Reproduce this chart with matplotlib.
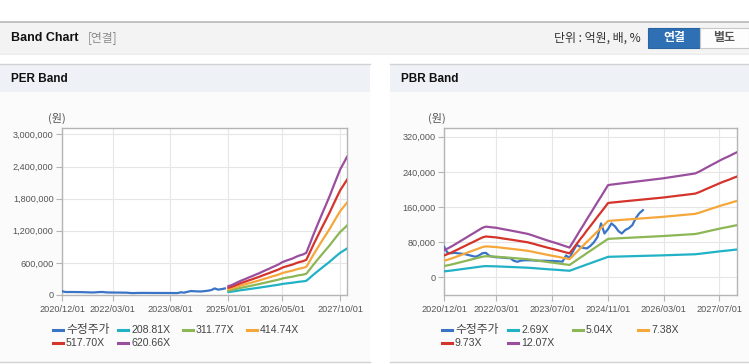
import numpy as np
import pandas as pd
import matplotlib
matplotlib.use("Agg")
import matplotlib.pyplot as plt
from matplotlib.patches import Rectangle
from matplotlib.lines import Line2D
from matplotlib.ticker import FuncFormatter

plt.rcParams['font.family'] = ['Liberation Sans', 'Noto Sans CJK KR', 'DejaVu Sans']
KR = ["Noto Sans CJK KR", "DejaVu Sans"]

# ---------------- data ----------------
price_start = "2020-12-01"
price = [70000, 56000, 55000, 56000, 55000, 54000, 53000, 51000, 49000, 47000,
         50000, 55000, 56000, 49000, 47000, 46000, 45600, 45000, 44000, 44000,
         38000, 35600, 38000, 39000, 39000, 39000, 38500, 38000, 38000, 38000,
         37500, 37500, 37000, 36500, 36000, 50000, 44000, 60000, 74000, 70000,
         67000, 66000, 72000, 80000, 92000, 123000, 100000, 110000, 123000, 116000,
         105000, 100000, 108000, 112000, 119000, 135000, 146000, 153000]
per_price_len = 49  # PER chart shows price up to 2024/12

per_start = "2025-01-01"
eps = [265, 300, 345, 395, 440, 480, 525, 565, 610, 650, 700, 745,
       790, 840, 880, 930, 990, 1030, 1065, 1100, 1150, 1190, 1220, 1270,
       1530, 1800, 2030, 2280, 2520, 2760, 3000, 3270, 3530, 3780, 3970, 4160]
per_mult = [208.81, 311.77, 414.74, 517.70, 620.66]
per_labels = ["208.81X", "311.77X", "414.74X", "517.70X", "620.66X"]

pbr_start = "2020-12-01"
bps = [5140, 5450, 5800, 6150, 6550, 6950, 7350, 7750, 8150, 8550, 8950, 9350,
       9570, 9500, 9420, 9360, 9230, 9100, 8980, 8860, 8730, 8600, 8470, 8340,
       8210, 8000, 7780, 7560, 7340, 7120, 6900, 6700, 6500, 6280, 6060, 5840,
       5630, 6700, 7800, 8850, 9900, 11000, 12050, 13100, 14200, 15250, 16300, 17400,
       17500, 17580, 17660, 17740, 17820, 17900, 17980, 18060, 18140, 18220, 18300, 18380,
       18460, 18540, 18620, 18700, 18800, 18900, 19000, 19100, 19200, 19300, 19400, 19500,
       19600, 19900, 20250, 20600, 20950, 21300, 21650, 22000, 22350, 22650, 22950, 23300,
       23600]
pbr_mult = [2.69, 5.04, 7.38, 9.73, 12.07]
pbr_labels = ["2.69X", "5.04X", "7.38X", "9.73X", "12.07X"]

price_label = "수정주가"
per_ticks = ["2020-12-01", "2022-03-01", "2023-08-01", "2025-01-01", "2026-05-01", "2027-10-01"]
pbr_ticks = ["2020-12-01", "2022-03-01", "2023-07-01", "2024-11-01", "2026-03-01", "2027-07-01"]
per_yticks = [0, 600000, 1200000, 1800000, 2400000, 3000000]
pbr_yticks = [0, 80000, 160000, 240000, 320000]

colors = ["#3a74c6", "#22b2c6", "#8db655", "#f5a73b", "#d4342b", "#9a4f9e"]

# ---------------- figure ----------------
W, H = 749, 364
fig = plt.figure(figsize=(W / 100, H / 100), dpi=100)
fig.patch.set_facecolor("white")

def fx(x):
    return x / W

def fy(y):
    return 1 - y / H

def rect(x0, y0, x1, y1, fc, ec="none", lw=0, z=-10):
    fig.patches.append(Rectangle((fx(x0), fy(y1)), fx(x1) - fx(x0), fy(y0) - fy(y1),
                                 transform=fig.transFigure, facecolor=fc, edgecolor=ec,
                                 linewidth=lw, zorder=z))

def hline(y, x0, x1, c, lw=1.0):
    fig.add_artist(Line2D([fx(x0), fx(x1)], [fy(y), fy(y)], transform=fig.transFigure,
                          color=c, linewidth=lw, zorder=-5))

# header
rect(0, 22, W, 52, "#f3f3f3")
hline(22, 0, W, "#b9b9b9", 1.2)
hline(52.5, 0, W, "#dcdcdc", 1.0)
hline(54, 0, W, "#eeeeee", 1.5)
fig.text(fx(11), fy(38), "Band Chart", fontsize=9, fontweight="bold", color="#111111", va="center")
fig.text(fx(88), fy(38), "[연결]", fontsize=8.5, color="#8a8a8a", va="center", family=KR)
fig.text(fx(641), fy(38), "단위 : 억원, 배, %", fontsize=8.6, color="#333333", va="center", ha="right",
         family=KR)
rect(648, 28, 700, 48, "#2f70b4", ec="#2a64a3", lw=0.8, z=1)
rect(700, 28, 749, 48, "#fdfdfd", ec="#c8c8c8", lw=0.8, z=1)
fig.text(fx(674), fy(38), "연결", fontsize=8.6, fontweight="bold", color="white", va="center", ha="center",
         family=KR)
fig.text(fx(724), fy(38), "별도", fontsize=8.6, fontweight="bold", color="#555555", va="center", ha="center",
         family=KR)

# panels
for (x0, x1, title) in [(0, 370, "PER Band"), (390, W, "PBR Band")]:
    rect(x0, 64, x1, 92, "#eef2f7")
    rect(x0, 92, x1, 362, "#fbfbfb")
    hline(64, x0, x1, "#d2d2d2", 1.0)
    hline(362, x0, x1, "#d2d2d2", 1.0)
    fig.text(fx(x0 + 11), fy(79), title, fontsize=8.5, fontweight="bold", color="#111111", va="center")


def style_axes(ax, ticks, yticks, ylim, xlim):
    ax.set_facecolor("white")
    ax.set_xlim(pd.Timestamp(xlim[0]), pd.Timestamp(xlim[1]))
    ax.set_ylim(*ylim)
    tdates = [pd.Timestamp(t) for t in ticks]
    ax.set_xticks(tdates)
    ax.set_xticklabels([t.strftime("%Y/%m/%d") for t in tdates])
    ax.set_yticks(yticks)
    ax.yaxis.set_major_formatter(FuncFormatter(lambda v, p: f"{v:,.0f}"))
    ax.grid(True, color="#e6e6e6", linewidth=0.8)
    ax.set_axisbelow(True)
    for s in ax.spines.values():
        s.set_color("#b5b5b5")
        s.set_linewidth(1.0)
    ax.tick_params(axis="both", colors="#b5b5b5", labelcolor="#555555", labelsize=6.6,
                   length=4, width=0.8)
    ax.tick_params(axis="x", pad=3)
    ax.tick_params(axis="y", pad=2)


def legend(row_y, col_x, labels):
    for i, (lab, c) in enumerate(zip(labels, colors)):
        r, col = divmod(i, 4)
        x = col_x[col]
        y = row_y[r]
        fig.add_artist(Line2D([fx(x), fx(x + 10)], [fy(y), fy(y)], transform=fig.transFigure,
                              color=c, linewidth=2.2))
        if lab == price_label:
            fig.text(fx(x + 13), fy(y), lab, fontsize=8.5, color="#444444", va="center", family=KR)
        else:
            fig.text(fx(x + 13), fy(y), lab, fontsize=7.6, color="#444444", va="center")


# ---- PER ----
ax1 = fig.add_axes([fx(62), fy(295), fx(347) - fx(62), fy(128) - fy(295)])
pdates = pd.date_range(price_start, periods=len(price), freq="MS")
ax1.plot(pdates[:per_price_len], price[:per_price_len], color=colors[0], lw=1.6, zorder=3)
edates = pd.date_range(per_start, periods=len(eps), freq="MS")
eps_arr = np.array(eps, dtype=float)
for m, c in zip(per_mult, colors[1:]):
    ax1.plot(edates, eps_arr * m, color=c, lw=1.6, zorder=4)
style_axes(ax1, per_ticks, per_yticks, (0, 3120000), ("2020-12-01", "2027-12-01"))
fig.text(fx(57), fy(118), "(원)", fontsize=8, color="#555555", va="center", ha="center", family=KR)
legend([330, 343], [53, 118, 183, 247], [price_label] + per_labels)

# ---- PBR ----
ax2 = fig.add_axes([fx(444), fy(295), fx(737) - fx(444), fy(128) - fy(295)])
ax2.plot(pdates, price, color=colors[0], lw=1.6, zorder=3)
bdates = pd.date_range(pbr_start, periods=len(bps), freq="MS")
bps_arr = np.array(bps, dtype=float)
for m, c in zip(pbr_mult, colors[1:]):
    ax2.plot(bdates, bps_arr * m, color=c, lw=1.6, zorder=4)
style_axes(ax2, pbr_ticks, pbr_yticks, (-40000, 340000), ("2020-12-01", "2027-12-01"))
fig.text(fx(437), fy(118), "(원)", fontsize=8, color="#555555", va="center", ha="center", family=KR)
legend([330, 343], [442, 508, 573, 638], [price_label] + pbr_labels)

fig.savefig("out.png", dpi=100, facecolor=fig.get_facecolor())
